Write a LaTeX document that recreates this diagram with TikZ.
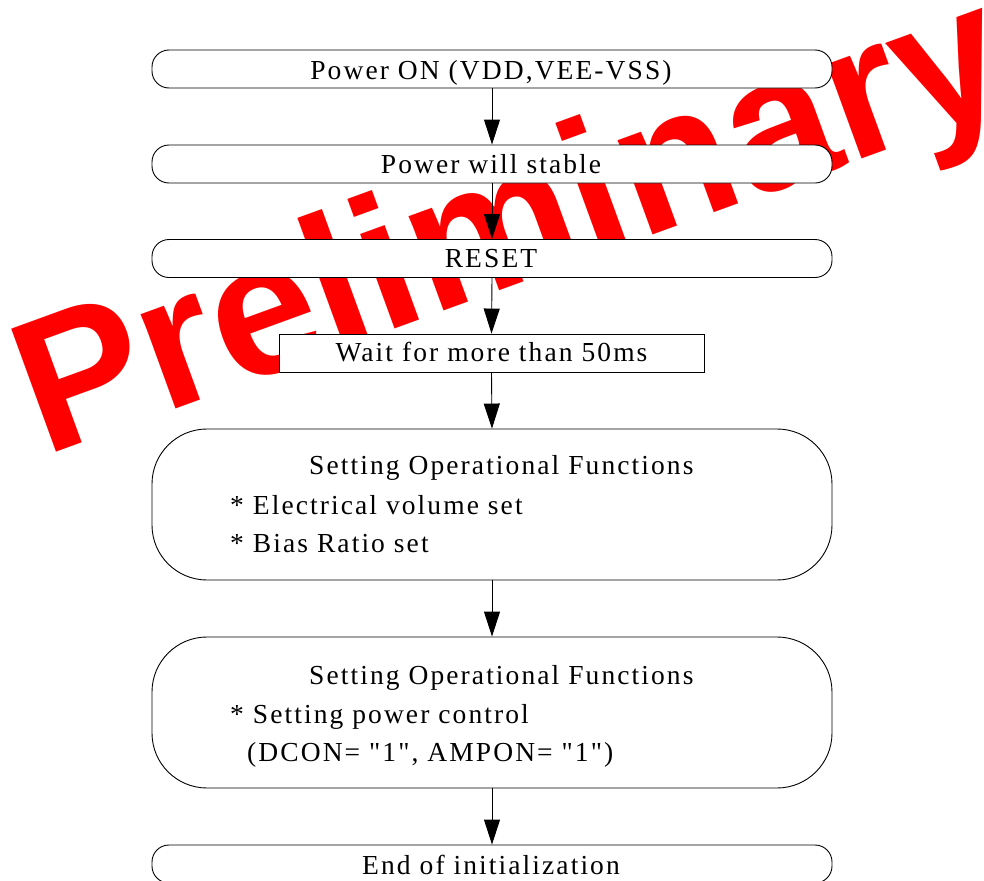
\documentclass[tikz,border=0pt]{standalone}
\usepackage{fontspec}
\setmainfont{Liberation Serif}
\newfontfamily\diagfont[LetterSpace=7.6]{Liberation Serif}
\newfontfamily\wmfont{Liberation Sans}
\usetikzlibrary{arrows.meta}
\begin{document}
\begin{tikzpicture}[x=1bp,y=-1bp,
  pill/.style={draw=black, line width=0.9bp, fill=white, rounded corners=17bp, minimum width=680bp, minimum height=38bp, inner sep=0pt},
  bigbox/.style={draw=black, line width=0.9bp, fill=white, rounded corners=55bp, minimum width=680bp, minimum height=151bp, inner sep=0pt},
  plainbox/.style={draw=black, line width=0.9bp, fill=white, minimum width=425bp, minimum height=38bp, inner sep=0pt},
  lbl/.style={font=\diagfont\fontsize{27.6}{33}\selectfont, inner sep=0pt, text=black},
  flow/.style={-{Triangle[length=25bp,width=16bp]}, line width=0.9bp, draw=black}]
\useasboundingbox (0,0) rectangle (984,881);
% watermark
\node[anchor=base west, rotate=20, inner sep=0pt, text=red, font=\wmfont\bfseries\fontsize{191}{191}\selectfont] (wm) at (44,457) {Preliminary};
% boxes
\node[pill] (n1) at (492,69) {};
\node[pill] (n2) at (492,164) {};
\node[pill] (n3) at (492,258.5) {};
\node[plainbox] (n4) at (491.5,353) {};
\node[bigbox] (n5) at (492,504.5) {};
\node[bigbox] (n6) at (492,712.5) {};
\node[pill] (n7) at (492,864) {};
% texts
\node[lbl, anchor=base] (t1) at (491,79) {Power ON (VDD,VEE-VSS)};
\node[lbl, anchor=base] (t2) at (491,173.5) {Power will stable};
\node[lbl, anchor=base] (t3) at (491,267.5) {RESET};
\node[lbl, anchor=base] (t4) at (491.5,361.5) {Wait for more than 50ms};
\node[lbl, anchor=base west] (t5a) at (309,474.5) {Setting Operational Functions};
\node[lbl, anchor=base west] (t5b) at (230,514) {* Electrical volume set};
\node[lbl, anchor=base west] (t5c) at (230,552.5) {* Bias Ratio set};
\node[lbl, anchor=base west] (t6a) at (309,684) {Setting Operational Functions};
\node[lbl, anchor=base west] (t6b) at (230,723) {* Setting power control};
\node[lbl, anchor=base west] (t6c) at (247,761.5) {(DCON= "1", AMPON= "1")};
\node[lbl, anchor=base] (t7) at (491,874) {End of initialization};
% connectors
\draw[flow] (n1.south) -- (n2.north);
\draw[flow] (n2.south) -- (n3.north);
\draw[flow] (n3.south) -- (n4.north);
\draw[flow] (n4.south) -- (n5.north);
\draw[flow] (n5.south) -- (n6.north);
\draw[flow] (n6.south) -- (n7.north);
\end{tikzpicture}
\end{document}
